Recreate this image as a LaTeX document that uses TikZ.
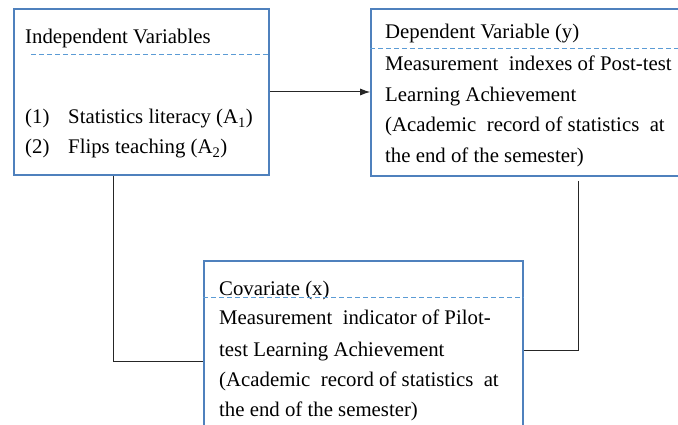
\documentclass[tikz,border=0pt]{standalone}
\usepackage{fontspec}
\setmainfont{Liberation Serif}
\newfontfamily\boxfont{Liberation Serif}
\usetikzlibrary{arrows.meta, positioning, calc}
\definecolor{boxblue}{HTML}{4F81BD}
\definecolor{dashblue}{HTML}{5B9BD5}
\tikzset{
    >={Latex[length=10pt,width=7pt]},
    varbox/.style={draw=boxblue, line width=1.6pt, rectangle, inner sep=0pt},
    sepline/.style={draw=dashblue, line width=1pt, dash pattern=on 5pt off 3pt},
    link/.style={draw=black!85, line width=1pt},
    txt/.style={anchor=base west, inner sep=0pt, font=\boxfont\fontsize{20.8}{24}\selectfont}
}

\begin{document}
\begin{tikzpicture}[x=1pt, y=1pt]
    \useasboundingbox (0,0) rectangle (678,425);
    \clip (0,0) rectangle (678,425);
    % boxes
    \node[varbox, minimum width=255pt, minimum height=166pt] (ind) at (141.5,333) {};
    \node[varbox, minimum width=340pt, minimum height=167pt] (dep) at (541,332.5) {};
    \node[varbox, minimum width=319pt, minimum height=202pt] (cov) at (363.5,63) {};
    % independent variables
    \node[txt] (indtitle) at (25,381) {Independent Variables};
    \draw[sepline] ($(ind.north west)+(18,-46)$) -- ($(ind.north east)+(0,-46)$);
    \node[txt] (num1) at (25,301) {(1)};
    \node[txt] (item1) at (68,301) {Statistics literacy (A\textsubscript{1})};
    \node[txt] (num2) at (25,271) {(2)};
    \node[txt] (item2) at (68,271) {Flips teaching (A\textsubscript{2})};
    % dependent variable
    \node[txt] (deptitle) at (385,386) {Dependent Variable (y)};
    \draw[sepline] ($(dep.north west)+(0,-40)$) -- ($(dep.north east)+(0,-40)$);
    \node[txt] (dep1) at (385,354) {Measurement\ \ indexes of Post-test};
    \node[txt] (dep2) at (385,323) {Learning Achievement};
    \node[txt] (dep3) at (385,293) {(Academic\ \ record of statistics\ \ at};
    \node[txt] (dep4) at (385,262) {the end of the semester)};
    % covariate
    \node[txt] (covtitle) at (219,129) {Covariate (x)};
    \draw[sepline] ($(cov.north west)+(0,-37)$) -- ($(cov.north east)+(0,-37)$);
    \node[txt] (cov1) at (219,100) {Measurement\ \ indicator of Pilot-};
    \node[txt] (cov2) at (219,68) {test Learning Achievement};
    \node[txt] (cov3) at (219,38) {(Academic\ \ record of statistics\ \ at};
    \node[txt] (cov4) at (219,8) {the end of the semester)};
    % connectors
    \draw[link, ->] (ind.east) -- (ind.east -| dep.west);
    \draw[link] ($(ind.south west)+(100,0)$) |- (cov.west);
    \draw[link] ($(dep.south west)+(208,-4)$) |- ($(cov.east)+(0,11)$);
\end{tikzpicture}
\end{document}
